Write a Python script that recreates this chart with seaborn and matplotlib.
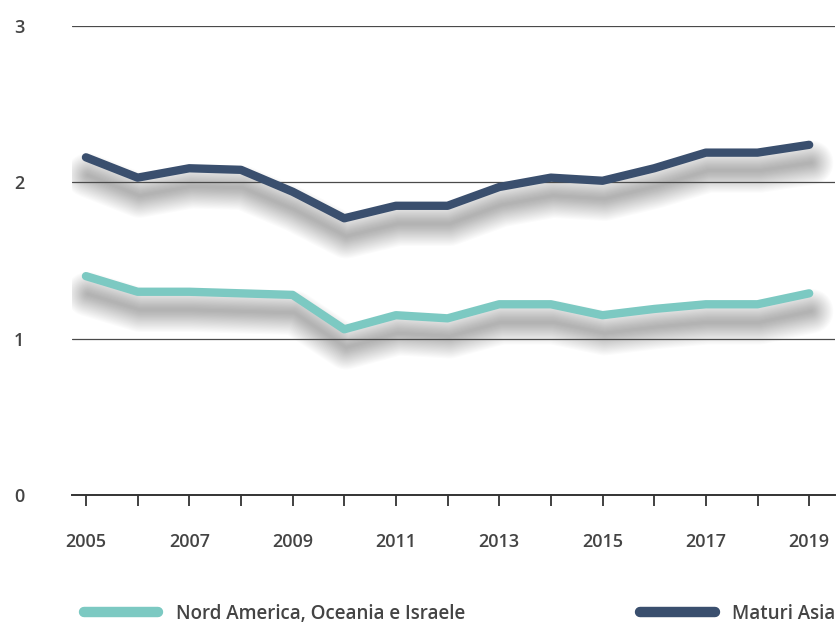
import numpy as np
import pandas as pd
import seaborn as sns
import matplotlib.pyplot as plt
from matplotlib.lines import Line2D
from matplotlib.transforms import ScaledTranslation

years = list(range(2005, 2020))
nord_america = [1.40, 1.30, 1.30, 1.29, 1.28, 1.06, 1.15, 1.13, 1.22, 1.22, 1.15, 1.19, 1.22, 1.22, 1.29]
maturi_asia = [2.16, 2.03, 2.09, 2.08, 1.94, 1.77, 1.85, 1.85, 1.97, 2.03, 2.01, 2.09, 2.19, 2.19, 2.24]
series_names = ["Nord America, Oceania e Israele", "Maturi Asia"]
colors = ["#7cc9c2", "#3a4f6e"]
y_ticks = [0, 1, 2, 3]

df = pd.DataFrame({
    "anno": years * 2,
    "valore": nord_america + maturi_asia,
    "serie": [series_names[0]] * len(years) + [series_names[1]] * len(years),
})

sns.set_theme(style="white")
plt.rcParams["font.family"] = ["Open Sans", "DejaVu Sans"]
FS = 13

fig = plt.figure(figsize=(8.39, 6.24), dpi=100)
W, H = 839, 624
ax = fig.add_axes([72 / W, (H - 495) / H, (835 - 72) / W, (495 - 26) / H])

# soft drop shadow under each line
shadow_offset = ScaledTranslation(0.02, -0.18, fig.dpi_scale_trans)
for vals in (nord_america, maturi_asia):
    for w in np.linspace(2, 32, 20):
        ax.plot(years, vals, color="black", alpha=0.016, lw=w,
                solid_capstyle="round", solid_joinstyle="round",
                transform=ax.transData + shadow_offset, zorder=1)

sns.lineplot(data=df, x="anno", y="valore", hue="serie", palette=colors,
             hue_order=series_names, lw=6, legend=False, ax=ax, zorder=3)
for ln in ax.get_lines()[-2:]:
    ln.set_solid_capstyle("round")
    ln.set_solid_joinstyle("round")

ax.set_xlim(2004.73, 2019.5)
ax.set_ylim(0, 3)
ax.set_xlabel("")
ax.set_ylabel("")

ax.set_axisbelow("line")
ax.set_yticks(y_ticks)
ax.set_yticklabels([str(v) for v in y_ticks])
ax.yaxis.grid(True, color="#4a4a4a", lw=0.9)
ax.xaxis.grid(False)

ax.set_xticks(years)
ax.set_xticklabels([str(y) if y % 2 == 1 else "" for y in years])

for s in ("top", "right", "left"):
    ax.spines[s].set_visible(False)
ax.spines["bottom"].set_color("#333333")
ax.spines["bottom"].set_linewidth(1.4)

ax.tick_params(axis="x", direction="out", length=8, width=1.3, color="#333333",
               pad=19.5, labelsize=FS, labelcolor="#444444", bottom=True)
ax.tick_params(axis="y", length=0, pad=34.5, labelsize=FS, labelcolor="#444444")
for lab in ax.get_xticklabels() + ax.get_yticklabels():
    lab.set_fontweight("semibold")

handles = [Line2D([], [], color=c, lw=7.5, solid_capstyle="round") for c in colors]
fig.legend(handles, series_names, loc="center left", bbox_to_anchor=(84 / W, 1 - 614 / H),
           ncol=2, frameon=False, handlelength=3.95, handletextpad=0.95, columnspacing=9.35,
           borderpad=0, borderaxespad=0,
           prop={"family": ["Open Sans", "DejaVu Sans"], "weight": "semibold", "size": 13.5},
           labelcolor="#444444")

fig.savefig("out.png", dpi=100)
